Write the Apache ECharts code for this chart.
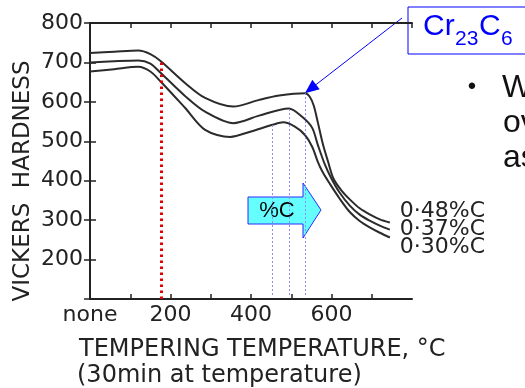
<!DOCTYPE html>
<html>
<head>
<meta charset="utf-8">
<script src="https://cdn.jsdelivr.net/npm/echarts@6/dist/echarts.min.js"></script>
<style>
  html, body { margin: 0; padding: 0; background: #fff; }
  #chart { width: 525px; height: 388px; }
</style>
</head>
<body>
<div id="chart"></div>
<script>
// tempering temperature (degC) / vickers hardness
const tempsHigh = [0, 60, 120, 150, 176, 236, 286, 356, 420, 470, 534, 546, 556, 566, 579, 591, 605, 625, 646, 670, 696, 720, 745];
const hardHigh  = [724, 727, 730, 721, 703, 648, 610, 588, 605, 616, 622, 613, 590, 548, 491, 450, 405, 375, 352, 330, 314, 302, 294];

const tempsMid = [0, 60, 120, 150, 176, 236, 286, 356, 420, 494, 527, 552, 566, 584, 600, 620, 646, 670, 696, 720, 745];
const hardMid  = [700, 703, 705, 697, 673, 615, 575, 546, 565, 583, 562, 534, 491, 440, 405, 370, 336, 314, 298, 286, 276];

const tempsLow = [0, 60, 120, 150, 176, 236, 286, 348, 400, 454, 480, 509, 534, 552, 566, 579, 596, 620, 646, 670, 696, 720, 745];
const hardLow  = [677, 683, 689, 677, 651, 585, 529, 511, 525, 542, 548, 537, 516, 486, 448, 420, 392, 355, 320, 298, 281, 268, 256];

const seriesNames = ["0·48%C", "0·37%C", "0·30%C"];
const labelOffsets = [-11, 0, 10];

const xLabelValues = [0, 200, 400, 600];
const xLabelTexts = ["none", "200", "400", "600"];

// dotted guide lines: [temperature, top hardness]
const redLine = [176, 704];
const blueLines = [[454, 542], [494, 583], [534, 622]];

const zip = (a, b) => a.map((v, i) => [v, b[i]]);
const curves = [zip(tempsHigh, hardHigh), zip(tempsMid, hardMid), zip(tempsLow, hardLow)];

let myChart = echarts.init(document.getElementById("chart"));

const axisCol = "#222";
const font = "DejaVu Sans";

let markData = [
  [
    { coord: [redLine[0], 100], lineStyle: { color: "#e00000", width: 3, type: [2.5, 3.5] } },
    { coord: [redLine[0], redLine[1]] }
  ]
];
blueLines.forEach(b => {
  markData.push([
    { coord: [b[0], 110], lineStyle: { color: "#8c8cff", width: 1, type: [2, 2] } },
    { coord: [b[0], b[1]] }
  ]);
});

let series = curves.map((d, i) => ({
  name: seriesNames[i],
  type: "line",
  data: d,
  smooth: 0.3,
  symbol: "none",
  silent: true,
  lineStyle: { color: "#2b2b2b", width: 2 },
  endLabel: {
    show: true,
    formatter: seriesNames[i],
    offset: [2, labelOffsets[i]],
    fontFamily: font,
    fontSize: 22,
    color: axisCol,
    backgroundColor: "#fff",
    padding: [1, 0, 1, 0]
  }
}));
series[0].markLine = {
  silent: true,
  symbol: ["none", "none"],
  label: { show: false },
  data: markData
};

let graphics = [
  // axis titles
  {
    type: "text", x: 23, y: 181, rotation: Math.PI / 2,
    style: { text: "VICKERS  HARDNESS", fontFamily: font, fontSize: 23, fill: axisCol, align: "center", verticalAlign: "middle" }
  },
  {
    type: "text", x: 79, y: 350,
    style: { text: "TEMPERING TEMPERATURE, °C", fontFamily: font, fontSize: 24, fill: axisCol, align: "left", verticalAlign: "middle" }
  },
  {
    type: "text", x: 77, y: 376,
    style: { text: "(30min at temperature)", fontFamily: font, fontSize: 24, fill: axisCol, align: "left", verticalAlign: "middle" }
  },
  // %C block arrow
  {
    type: "polygon",
    shape: { points: [[248, 197], [303, 197], [303, 183], [321, 210], [303, 238], [303, 224], [248, 224]] },
    style: { fill: "#66ffff", stroke: "#2a2aff", lineWidth: 1 }
  },
  {
    type: "text", x: 277, y: 211,
    style: { text: "%C", fontFamily: "Liberation Sans", fontSize: 22, fill: "#000", align: "center", verticalAlign: "middle" }
  },
  // Cr23C6 callout
  {
    type: "rect",
    shape: { x: 408, y: 7, width: 130, height: 47 },
    style: { fill: "#fff", stroke: "#0000ff", lineWidth: 1 }
  },
  {
    type: "text", x: 423, y: 42,
    style: { text: "Cr", fontFamily: "Liberation Sans", fontSize: 30, fill: "#0000ff", align: "left", verticalAlign: "bottom" }
  },
  {
    type: "text", x: 455, y: 50,
    style: { text: "23", fontFamily: "Liberation Sans", fontSize: 21, fill: "#0000ff", align: "left", verticalAlign: "bottom" }
  },
  {
    type: "text", x: 479, y: 42,
    style: { text: "C", fontFamily: "Liberation Sans", fontSize: 30, fill: "#0000ff", align: "left", verticalAlign: "bottom" }
  },
  {
    type: "text", x: 501, y: 50,
    style: { text: "6", fontFamily: "Liberation Sans", fontSize: 21, fill: "#0000ff", align: "left", verticalAlign: "bottom" }
  },
  // cut-off slide text on the right
  {
    type: "text", x: 472, y: 87,
    style: { text: "•", fontFamily: "Liberation Sans", fontSize: 24, fill: "#111", align: "center", verticalAlign: "middle" }
  },
  {
    type: "text", x: 502, y: 88,
    style: { text: "W", fontFamily: "Liberation Sans", fontSize: 32, fill: "#111", align: "left", verticalAlign: "middle" }
  },
  {
    type: "text", x: 503, y: 123,
    style: { text: "ov", fontFamily: "Liberation Sans", fontSize: 32, fill: "#111", align: "left", verticalAlign: "middle" }
  },
  {
    type: "text", x: 503, y: 158,
    style: { text: "as", fontFamily: "Liberation Sans", fontSize: 32, fill: "#111", align: "left", verticalAlign: "middle" }
  }
];

let option = {
  animation: false,
  grid: { left: 90, right: 113, top: 23, bottom: 89 },
  xAxis: [
    {
      type: "value",
      min: 0,
      max: 800,
      interval: 100,
      splitLine: { show: false },
      axisLine: { lineStyle: { color: axisCol, width: 2 } },
      axisTick: { inside: true, length: 5, lineStyle: { color: axisCol, width: 1.5 } },
      axisLabel: {
        margin: 5,
        fontFamily: font,
        fontSize: 22,
        color: axisCol,
        showMaxLabel: false,
        formatter: v => {
          let k = xLabelValues.indexOf(v);
          return k >= 0 ? xLabelTexts[k] : "";
        }
      }
    },
    {
      type: "value",
      position: "top",
      min: 0,
      max: 800,
      interval: 100,
      splitLine: { show: false },
      axisLine: { lineStyle: { color: axisCol, width: 2 } },
      axisTick: { inside: true, length: 5, lineStyle: { color: axisCol, width: 1.5 } },
      axisLabel: { show: false }
    }
  ],
  yAxis: [
    {
      type: "value",
      min: 100,
      max: 800,
      interval: 100,
      splitLine: { show: false },
      axisLine: { show: true, lineStyle: { color: axisCol, width: 2 } },
      axisTick: { show: true, inside: true, length: 6, lineStyle: { color: axisCol, width: 1.5 } },
      axisLabel: {
        margin: 7,
        fontFamily: font,
        fontSize: 22,
        color: axisCol,
        formatter: v => (v >= 200 ? String(v) : "")
      }
    },
    {
      type: "value",
      position: "right",
      min: 100,
      max: 800,
      interval: 100,
      splitLine: { show: false },
      axisLine: { show: true, lineStyle: { color: axisCol, width: 2 } },
      axisTick: { show: true, inside: true, length: 6, lineStyle: { color: axisCol, width: 1.5 } },
      axisLabel: { show: false }
    }
  ],
  series: series,
  graphic: graphics
};

myChart.setOption(option);

// callout arrow from the Cr23C6 box to the 0.48%C peak
let tip = myChart.convertToPixel({ gridIndex: 0 }, blueLines[2]);
let start = [402, 18];
let ang = Math.atan2(tip[1] - start[1], tip[0] - start[0]);
let headLen = 14, headHalf = 6;
let base = [tip[0] - headLen * Math.cos(ang), tip[1] - headLen * Math.sin(ang)];
let nx = -Math.sin(ang), ny = Math.cos(ang);
graphics.push({
  type: "line",
  shape: { x1: start[0], y1: start[1], x2: base[0], y2: base[1] },
  style: { stroke: "#0000ff", lineWidth: 1 }
});
graphics.push({
  type: "polygon",
  shape: {
    points: [
      tip,
      [base[0] + nx * headHalf, base[1] + ny * headHalf],
      [base[0] - nx * headHalf, base[1] - ny * headHalf]
    ]
  },
  style: { fill: "#0000ff" }
});
myChart.setOption({ graphic: graphics });

window.addEventListener("resize", () => {
  myChart.resize();
});
</script>
</body>
</html>
